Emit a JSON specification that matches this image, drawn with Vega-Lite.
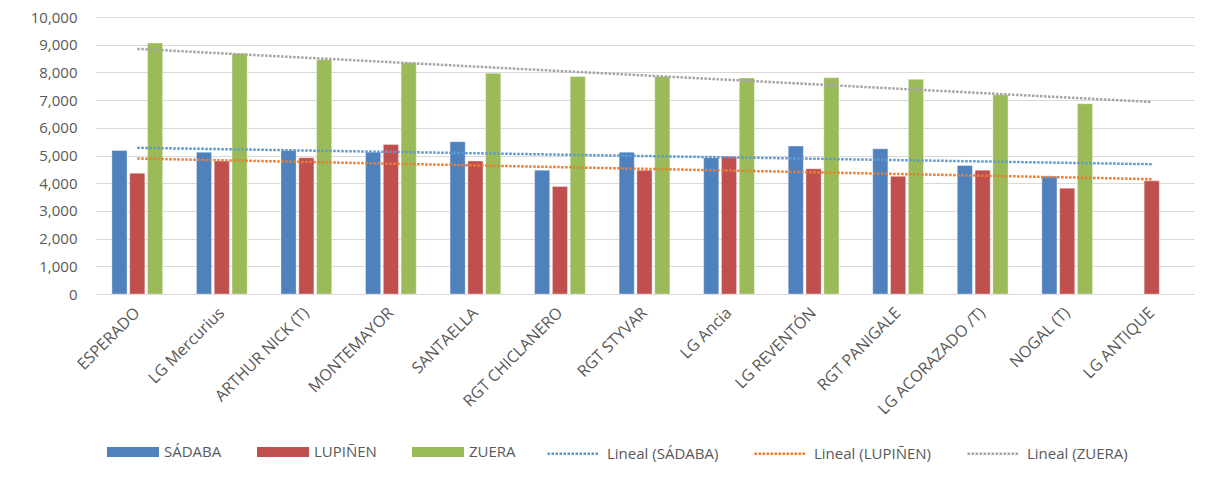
{
  "$schema": "https://vega.github.io/schema/vega-lite/v6.json",
  "width": 1099,
  "height": 277,
  "autosize": {"type": "none"},
  "padding": {"left": 95, "top": 17, "right": 31, "bottom": 190},
  "background": "white",
  "config": {
    "view": {"stroke": null},
    "font": "Open Sans"
  },
  "data": {
    "values": [
      {"variety": "ESPERADO", "idx": 0, "series": "SÁDABA", "value": 5180},
      {"variety": "ESPERADO", "idx": 0, "series": "LUPIÑEN", "value": 4360},
      {"variety": "ESPERADO", "idx": 0, "series": "ZUERA", "value": 9060},
      {"variety": "LG Mercurius", "idx": 1, "series": "SÁDABA", "value": 5120},
      {"variety": "LG Mercurius", "idx": 1, "series": "LUPIÑEN", "value": 4800},
      {"variety": "LG Mercurius", "idx": 1, "series": "ZUERA", "value": 8680},
      {"variety": "ARTHUR NICK (T)", "idx": 2, "series": "SÁDABA", "value": 5180},
      {"variety": "ARTHUR NICK (T)", "idx": 2, "series": "LUPIÑEN", "value": 4920},
      {"variety": "ARTHUR NICK (T)", "idx": 2, "series": "ZUERA", "value": 8460},
      {"variety": "MONTEMAYOR", "idx": 3, "series": "SÁDABA", "value": 5120},
      {"variety": "MONTEMAYOR", "idx": 3, "series": "LUPIÑEN", "value": 5400},
      {"variety": "MONTEMAYOR", "idx": 3, "series": "ZUERA", "value": 8350},
      {"variety": "SANTAELLA", "idx": 4, "series": "SÁDABA", "value": 5500},
      {"variety": "SANTAELLA", "idx": 4, "series": "LUPIÑEN", "value": 4800},
      {"variety": "SANTAELLA", "idx": 4, "series": "ZUERA", "value": 7965},
      {"variety": "RGT CHICLANERO", "idx": 5, "series": "SÁDABA", "value": 4470},
      {"variety": "RGT CHICLANERO", "idx": 5, "series": "LUPIÑEN", "value": 3880},
      {"variety": "RGT CHICLANERO", "idx": 5, "series": "ZUERA", "value": 7855},
      {"variety": "RGT STYVAR", "idx": 6, "series": "SÁDABA", "value": 5120},
      {"variety": "RGT STYVAR", "idx": 6, "series": "LUPIÑEN", "value": 4470},
      {"variety": "RGT STYVAR", "idx": 6, "series": "ZUERA", "value": 7855},
      {"variety": "LG Ancia", "idx": 7, "series": "SÁDABA", "value": 4920},
      {"variety": "LG Ancia", "idx": 7, "series": "LUPIÑEN", "value": 4965},
      {"variety": "LG Ancia", "idx": 7, "series": "ZUERA", "value": 7795},
      {"variety": "LG REVENTÓN", "idx": 8, "series": "SÁDABA", "value": 5340},
      {"variety": "LG REVENTÓN", "idx": 8, "series": "LUPIÑEN", "value": 4520},
      {"variety": "LG REVENTÓN", "idx": 8, "series": "ZUERA", "value": 7810},
      {"variety": "RGT PANIGALE", "idx": 9, "series": "SÁDABA", "value": 5240},
      {"variety": "RGT PANIGALE", "idx": 9, "series": "LUPIÑEN", "value": 4250},
      {"variety": "RGT PANIGALE", "idx": 9, "series": "ZUERA", "value": 7750},
      {"variety": "LG ACORAZADO /T)", "idx": 10, "series": "SÁDABA", "value": 4640},
      {"variety": "LG ACORAZADO /T)", "idx": 10, "series": "LUPIÑEN", "value": 4470},
      {"variety": "LG ACORAZADO /T)", "idx": 10, "series": "ZUERA", "value": 7195},
      {"variety": "NOGAL (T)", "idx": 11, "series": "SÁDABA", "value": 4250},
      {"variety": "NOGAL (T)", "idx": 11, "series": "LUPIÑEN", "value": 3820},
      {"variety": "NOGAL (T)", "idx": 11, "series": "ZUERA", "value": 6870},
      {"variety": "LG ANTIQUE", "idx": 12, "series": "LUPIÑEN", "value": 4085}
    ]
  },
  "layer": [
    {
      "mark": {"type": "bar", "stroke": "white", "strokeOpacity": 0.35, "strokeWidth": 1},
      "encoding": {
        "x": {
          "field": "variety",
          "type": "nominal",
          "sort": ["ESPERADO", "LG Mercurius", "ARTHUR NICK (T)", "MONTEMAYOR", "SANTAELLA", "RGT CHICLANERO", "RGT STYVAR", "LG Ancia", "LG REVENTÓN", "RGT PANIGALE", "LG ACORAZADO /T)", "NOGAL (T)", "LG ANTIQUE"],
          "scale": {"paddingInner": 0.4, "paddingOuter": 0.2},
          "axis": {
            "title": null,
            "labelAngle": -45,
            "labelAlign": "right",
            "labelBaseline": "middle",
            "labelFont": "Open Sans",
            "labelFontSize": 16,
            "labelColor": "#595959",
            "labelPadding": 16,
            "labelOverlap": false,
            "ticks": false,
            "domainColor": "#D9D9D9",
            "domainWidth": 1
          }
        },
        "xOffset": {
          "field": "series",
          "type": "nominal",
          "sort": ["SÁDABA", "LUPIÑEN", "ZUERA"],
          "scale": {"paddingInner": 0.15, "paddingOuter": 0}
        },
        "y": {
          "field": "value",
          "type": "quantitative",
          "scale": {"domain": [0, 10000], "nice": false},
          "axis": {
            "title": null,
            "values": [0, 1000, 2000, 3000, 4000, 5000, 6000, 7000, 8000, 9000, 10000],
            "format": ",d",
            "labelFont": "Open Sans",
            "labelFontSize": 15,
            "labelColor": "#595959",
            "labelPadding": 18,
            "labelOverlap": false,
            "ticks": false,
            "domain": false,
            "gridColor": "#D9D9D9",
            "gridWidth": 1
          }
        },
        "fill": {
          "field": "series",
          "type": "nominal",
          "scale": {"domain": ["SÁDABA", "LUPIÑEN", "ZUERA"], "range": ["#4F81BD", "#C0504D", "#9BBB59"]},
          "legend": {
            "title": null,
            "orient": "none",
            "direction": "horizontal",
            "legendX": 12,
            "legendY": 409,
            "symbolType": "M-1,-0.19H1V0.19H-1Z",
            "symbolSize": 2704,
            "symbolStrokeWidth": 0,
            "symbolOpacity": 1,
            "labelFont": "Open Sans",
            "labelFontSize": 15,
            "labelColor": "#595959",
            "labelOffset": 5,
            "columnPadding": 35
          }
        }
      }
    },
    {
      "transform": [
        {"regression": "value", "on": "idx", "groupby": ["series"], "extent": [0, 12]}
      ],
      "mark": {"type": "line", "strokeWidth": 2.5, "strokeDash": [2.5, 1.5], "strokeCap": "butt"},
      "encoding": {
        "x": {
          "field": "idx",
          "type": "quantitative",
          "scale": {"domain": [-0.5, 12.5], "nice": false, "zero": false},
          "axis": null
        },
        "y": {
          "field": "value",
          "type": "quantitative",
          "axis": {
            "title": null,
            "values": [0, 1000, 2000, 3000, 4000, 5000, 6000, 7000, 8000, 9000, 10000],
            "format": ",d",
            "labelFont": "Open Sans",
            "labelFontSize": 15,
            "labelColor": "#595959",
            "labelPadding": 18,
            "labelOverlap": false,
            "ticks": false,
            "domain": false,
            "gridColor": "#D9D9D9",
            "gridWidth": 1
          }
        },
        "stroke": {
          "field": "series",
          "type": "nominal",
          "scale": {"domain": ["SÁDABA", "LUPIÑEN", "ZUERA", "-"], "range": ["#5B9BD5", "#ED7D31", "#A5A5A5", "#FFFFFF"]},
          "legend": {
            "title": null,
            "orient": "none",
            "direction": "horizontal",
            "values": ["SÁDABA", "LUPIÑEN", "ZUERA"],
            "legendX": 451,
            "legendY": 409,
            "symbolType": "stroke",
            "symbolSize": 2704,
            "symbolStrokeWidth": 2.5,
            "symbolDash": [2.5, 1.5],
            "labelExpr": "'Lineal (' + datum.label + ')'",
            "labelFont": "Open Sans",
            "labelFontSize": 15,
            "labelColor": "#595959",
            "labelOffset": 6,
            "columnPadding": 30
          }
        }
      }
    }
  ],
  "resolve": {"scale": {"x": "independent"}}
}
